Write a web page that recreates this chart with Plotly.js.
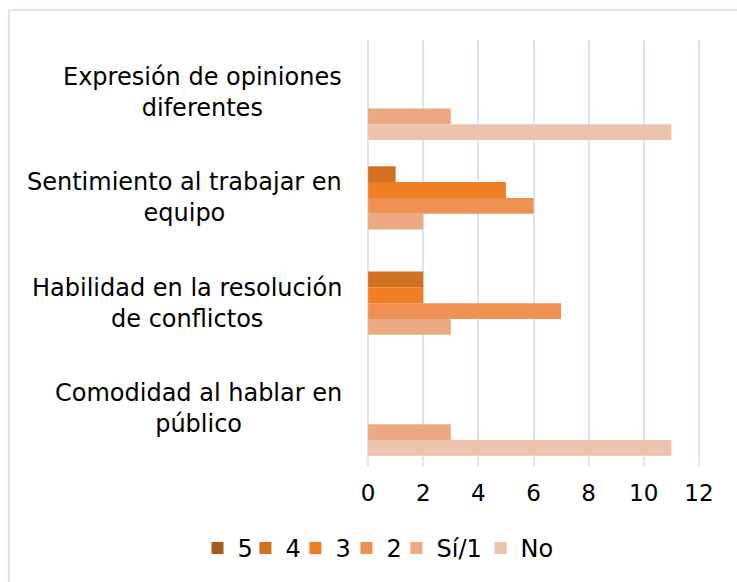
<!DOCTYPE html>
<html>
<head>
<meta charset="utf-8">
<script src="https://cdn.plot.ly/plotly-3.0.1.min.js"></script>
<style>
html,body{margin:0;padding:0;background:#fff;}
#chart{width:737px;height:582px;}
</style>
</head>
<body>
<div id="chart"></div>
<script>
// Categories (top to bottom) and their displayed labels
const categories = ['Expresión de opiniones diferentes', 'Sentimiento al trabajar en equipo', 'Habilidad en la resolución de conflictos', 'Comodidad al hablar en público'];
const categoryLabels = ['Expresión de opiniones<br>diferentes', 'Sentimiento al trabajar en<br>equipo', 'Habilidad en la resolución<br>de conflictos', 'Comodidad al hablar en<br>público'];

// Series names
const seriesNames = ['5', '4', '3', '2', 'Sí/1', 'No'];

// Series values (per category, top to bottom)
const values5  = [0, 0, 0, 0];
const values4  = [0, 1, 2, 0];
const values3  = [0, 5, 2, 0];
const values2  = [0, 6, 7, 0];
const valuesSi = [3, 2, 3, 3];
const valuesNo = [11, 0, 0, 11];

const xTicks = [0, 2, 4, 6, 8, 10, 12];

const seriesValues = [values5, values4, values3, values2, valuesSi, valuesNo];
const colors = ['#a65a1f', '#d2711f', '#f07f24', '#ef9153', '#eca881', '#ecc2ad'];
const legendIds = ['legend', 'legend2', 'legend3', 'legend4', 'legend5', 'legend6'];
const legendX = [-0.509, -0.365, -0.215, -0.0616, 0.0886, 0.341];

const FONT = 'DejaVu Sans, Verdana, sans-serif';

const traces = seriesNames.map((name, i) => ({
  type: 'bar',
  orientation: 'h',
  name: name,
  y: categories,
  x: seriesValues[i],
  marker: {color: colors[i]},
  legend: legendIds[i],
  hoverinfo: 'x+name'
}));

const annotations = categories.map((c, i) => ({
  xref: 'paper', yref: 'y',
  x: -0.068, y: c,
  xanchor: 'right', yanchor: 'middle',
  align: 'center',
  text: categoryLabels[i],
  showarrow: false,
  font: {family: FONT, size: 24, color: '#000'}
}));

const gridColor = '#d9e4f4';

const layout = {
  width: 737,
  height: 582,
  margin: {l: 367, r: 37, t: 40, b: 120},
  paper_bgcolor: '#fff',
  plot_bgcolor: '#fff',
  font: {family: FONT, size: 24, color: '#000'},
  barmode: 'group',
  bargap: 0.1,
  bargroupgap: 0,
  showlegend: true,
  xaxis: {
    range: [-0.04, 12.04],
    tickvals: xTicks,
    ticktext: xTicks.map(String),
    showgrid: true,
    gridcolor: gridColor,
    gridwidth: 2,
    zeroline: false,
    showline: false,
    ticks: 'outside',
    ticklen: 4,
    tickwidth: 2,
    tickcolor: gridColor,
    ticklabelstandoff: 7,
    tickfont: {family: FONT, size: 23, color: '#000'},
    fixedrange: true
  },
  yaxis: {
    type: 'category',
    categoryorder: 'array',
    categoryarray: categories,
    autorange: 'reversed',
    showticklabels: false,
    showgrid: false,
    zeroline: false,
    showline: false,
    ticks: '',
    fixedrange: true
  },
  annotations: annotations,
  shapes: [
    {type: 'line', xref: 'paper', yref: 'paper', x0: -1.075, x1: 1.2, y0: 1.071, y1: 1.071, line: {color: gridColor, width: 2}},
    {type: 'line', xref: 'paper', yref: 'paper', x0: -1.075, x1: -1.075, y0: 1.071, y1: -0.3, line: {color: gridColor, width: 2}}
  ]
};

legendIds.forEach((id, i) => {
  layout[id] = {
    orientation: 'h',
    x: legendX[i], xanchor: 'left',
    y: -0.205, yanchor: 'middle',
    font: {family: FONT, size: 24, color: '#000'},
    itemwidth: 30,
    bgcolor: 'rgba(0,0,0,0)'
  };
});

Plotly.newPlot('chart', traces, layout, {displayModeBar: false, staticPlot: true});
</script>
</body>
</html>
